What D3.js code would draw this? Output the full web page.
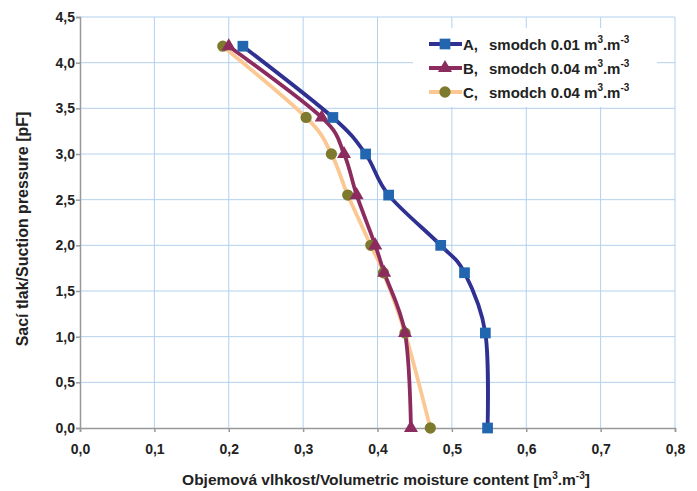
<!DOCTYPE html>
<html>
<script src='https://d3js.org/d3.v7.min.js'></script>
<style>
  body { margin: 0; background: #fff; }
  text { font-family: 'Liberation Sans', Arial, sans-serif; font-weight: bold; fill: #222; }
</style>
<body onload='init()'>
<svg width=697 height=491></svg>
<script>
// pF levels (suction pressure)
var pF = [4.18, 3.4, 3.0, 2.55, 2.0, 1.7, 1.04, 0.0];
// volumetric moisture content per series
var serA = [0.219, 0.340, 0.384, 0.415, 0.485, 0.517, 0.545, 0.548];
var serB = [0.200, 0.325, 0.355, 0.372, 0.397, 0.409, 0.437, 0.445];
var serC = [0.192, 0.304, 0.338, 0.360, 0.391, 0.408, 0.437, 0.471];
var names = ['A,', 'B,', 'C,'];
var smodch = ['0.01', '0.04', '0.04'];
var xTicks = [0, 0.1, 0.2, 0.3, 0.4, 0.5, 0.6, 0.7, 0.8];
var yTicks = [0, 0.5, 1.0, 1.5, 2.0, 2.5, 3.0, 3.5, 4.0, 4.5];

function init() {
  var svg = d3.select('svg');
  var xs = d3.scaleLinear().domain([0, 0.8]).range([80, 675]);
  var ys = d3.scaleLinear().domain([0, 4.5]).range([428, 17]);
  var fmt = function(d){ return d3.format('.1f')(d).replace('.', ','); };

  // gridlines
  svg.append('g').selectAll('line').data(xTicks.slice(1)).enter().append('line')
    .attr('x1', xs).attr('x2', xs).attr('y1', ys(4.5)).attr('y2', ys(0))
    .attr('stroke', '#b3d1ee').attr('stroke-width', 1);
  svg.append('g').selectAll('line').data(yTicks.slice(1)).enter().append('line')
    .attr('x1', xs(0)).attr('x2', xs(0.8)).attr('y1', ys).attr('y2', ys)
    .attr('stroke', '#b3d1ee').attr('stroke-width', 1);

  // axes
  var gx = svg.append('g').attr('transform', 'translate(0,' + ys(0) + ')')
    .call(d3.axisBottom(xs).tickValues(xTicks).tickFormat(fmt).tickSize(4).tickPadding(12));
  var gy = svg.append('g').attr('transform', 'translate(' + xs(0) + ',0)')
    .call(d3.axisLeft(ys).tickValues(yTicks).tickFormat(fmt).tickSize(4).tickPadding(1));
  [gx, gy].forEach(function(g){
    g.selectAll('path, line').attr('stroke', '#999').attr('stroke-width', 1.5);
    g.selectAll('text').style('font-size', '14px').style('font-weight', 'bold')
      .style('font-family', "'Liberation Sans', Arial, sans-serif").attr('fill', '#222');
  });

  // axis titles
  var xt = svg.append('text').attr('x', 386).attr('y', 485).attr('text-anchor', 'middle')
    .style('font-size', '15.5px');
  xt.append('tspan').text('Objemová vlhkost/Volumetric moisture content [m');
  xt.append('tspan').attr('dy', -6).style('font-size', '10px').text('3');
  xt.append('tspan').attr('dy', 6).text('.m');
  xt.append('tspan').attr('dy', -6).style('font-size', '10px').text('-3');
  xt.append('tspan').attr('dy', 6).text(']');
  svg.append('text').attr('transform', 'translate(28,' + 229 + ') rotate(-90)')
    .attr('text-anchor', 'middle').style('font-size', '16px')
    .text('Sací tlak/Suction pressure [pF]');

  var series = [
    {vals: serA, line: '#2e3192', mark: '#2266b0', shape: d3.symbolSquare, size: 115},
    {vals: serB, line: '#8c2b5e', mark: '#8c2b5e', shape: d3.symbolTriangle, size: 85},
    {vals: serC, line: '#fbc893', mark: '#7d7a2e', shape: d3.symbolCircle, size: 100}
  ];
  var line = d3.line().x(function(d){ return xs(d[0]); }).y(function(d){ return ys(d[1]); })
    .curve(d3.curveCardinal.tension(0));

  // draw C first so A on top
  series.slice().reverse().forEach(function(s){
    var pts = s.vals.map(function(v, i){ return [v, pF[i]]; });
    svg.append('path').datum(pts).attr('d', line).attr('fill', 'none')
      .attr('stroke', s.line).attr('stroke-width', 3.8).attr('stroke-linejoin', 'round');
  });
  series.slice().reverse().forEach(function(s){
    var pts = s.vals.map(function(v, i){ return [v, pF[i]]; });
    svg.append('g').selectAll('path').data(pts).enter().append('path')
      .attr('d', d3.symbol().type(s.shape).size(s.size))
      .attr('transform', function(d){ return 'translate(' + xs(d[0]) + ',' + ys(d[1]) + ')'; })
      .attr('fill', s.mark);
  });

  // legend
  var lg = svg.append('g');
  lg.append('rect').attr('x', 413).attr('y', 28).attr('width', 244).attr('height', 79).attr('fill', '#fff');
  series.forEach(function(s, i){
    var y = 44 + i * 24;
    lg.append('line').attr('x1', 429).attr('x2', 462).attr('y1', y).attr('y2', y)
      .attr('stroke', s.line).attr('stroke-width', 3.8);
    lg.append('path').attr('d', d3.symbol().type(s.shape).size(s.size))
      .attr('transform', 'translate(445,' + y + ')').attr('fill', s.mark);
    lg.append('text').attr('x', 463).attr('y', y + 6).style('font-size', '15px').text(names[i]);
    var t = lg.append('text').attr('x', 489).attr('y', y + 6).style('font-size', '15px');
    t.append('tspan').text('smodch ' + smodch[i] + ' m');
    t.append('tspan').attr('dy', -7).style('font-size', '10px').text('3');
    t.append('tspan').attr('dy', 7).text('.m');
    t.append('tspan').attr('dy', -7).style('font-size', '10px').text('-3');
  });
}
</script>
</body>
</html>
